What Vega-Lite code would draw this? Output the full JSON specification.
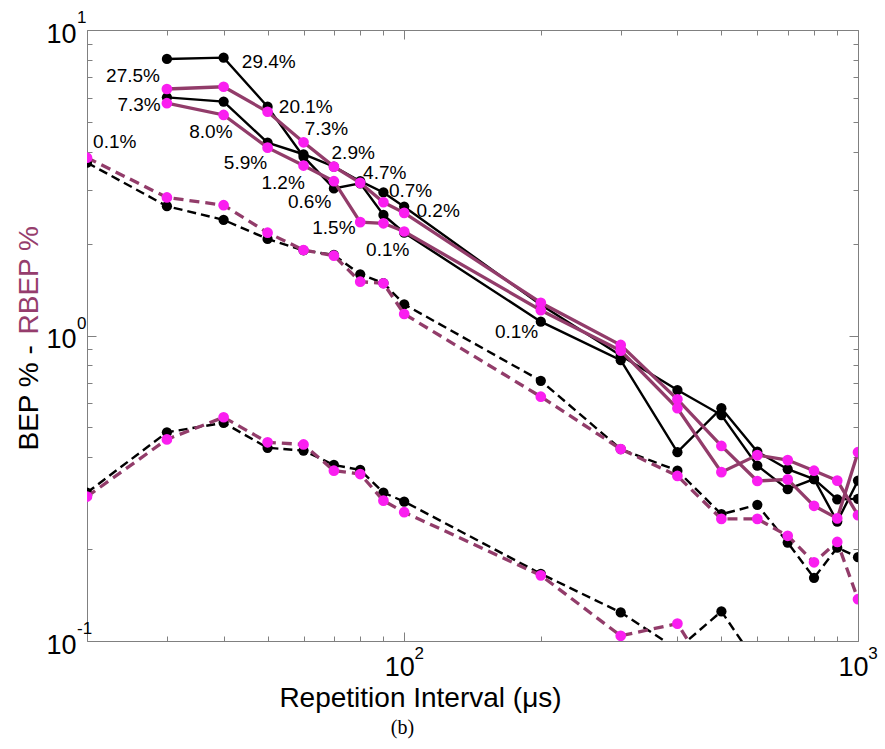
{
  "$schema": "https://vega.github.io/schema/vega-lite/v6.json",
  "width": 771,
  "height": 611,
  "autosize": {"type": "none"},
  "padding": {"left": 87, "top": 30, "right": 27, "bottom": 108},
  "background": "white",
  "config": {"view": {"stroke": null}, "font": "Liberation Sans"},
  "datasets": {
    "series": [
      {"t": 30, "v": 8.04, "m": "BEP", "s": "A"}, {"t": 40, "v": 8.12, "m": "BEP", "s": "A"}, {"t": 50, "v": 5.61, "m": "BEP", "s": "A"}, {"t": 60, "v": 3.85, "m": "BEP", "s": "A"}, {"t": 70, "v": 3.03, "m": "BEP", "s": "A"}, {"t": 80, "v": 3.15, "m": "BEP", "s": "A"}, {"t": 90, "v": 2.48, "m": "BEP", "s": "A"}, {"t": 100, "v": 2.17, "m": "BEP", "s": "A"}, {"t": 200, "v": 1.11, "m": "BEP", "s": "A"}, {"t": 300, "v": 0.83, "m": "BEP", "s": "A"}, {"t": 400, "v": 0.415, "m": "BEP", "s": "A"}, {"t": 500, "v": 0.578, "m": "BEP", "s": "A"}, {"t": 600, "v": 0.4165, "m": "BEP", "s": "A"}, {"t": 700, "v": 0.365, "m": "BEP", "s": "A"}, {"t": 800, "v": 0.339, "m": "BEP", "s": "A"}, {"t": 900, "v": 0.291, "m": "BEP", "s": "A"}, {"t": 1000, "v": 0.292, "m": "BEP", "s": "A"},
      {"t": 30, "v": 6.02, "m": "BEP", "s": "B"}, {"t": 40, "v": 5.83, "m": "BEP", "s": "B"}, {"t": 50, "v": 4.28, "m": "BEP", "s": "B"}, {"t": 60, "v": 3.92, "m": "BEP", "s": "B"}, {"t": 70, "v": 3.57, "m": "BEP", "s": "B"}, {"t": 80, "v": 3.2, "m": "BEP", "s": "B"}, {"t": 90, "v": 2.94, "m": "BEP", "s": "B"}, {"t": 100, "v": 2.64, "m": "BEP", "s": "B"}, {"t": 200, "v": 1.26, "m": "BEP", "s": "B"}, {"t": 300, "v": 0.86, "m": "BEP", "s": "B"}, {"t": 400, "v": 0.663, "m": "BEP", "s": "B"}, {"t": 500, "v": 0.549, "m": "BEP", "s": "B"}, {"t": 600, "v": 0.375, "m": "BEP", "s": "B"}, {"t": 700, "v": 0.314, "m": "BEP", "s": "B"}, {"t": 800, "v": 0.339, "m": "BEP", "s": "B"}, {"t": 900, "v": 0.246, "m": "BEP", "s": "B"}, {"t": 1000, "v": 0.335, "m": "BEP", "s": "B"},
      {"t": 20, "v": 3.68, "m": "BEP", "s": "M"}, {"t": 30, "v": 2.65, "m": "BEP", "s": "M"}, {"t": 40, "v": 2.39, "m": "BEP", "s": "M"}, {"t": 50, "v": 2.07, "m": "BEP", "s": "M"}, {"t": 60, "v": 1.9, "m": "BEP", "s": "M"}, {"t": 70, "v": 1.835, "m": "BEP", "s": "M"}, {"t": 80, "v": 1.586, "m": "BEP", "s": "M"}, {"t": 90, "v": 1.485, "m": "BEP", "s": "M"}, {"t": 100, "v": 1.265, "m": "BEP", "s": "M"}, {"t": 200, "v": 0.711, "m": "BEP", "s": "M"}, {"t": 300, "v": 0.425, "m": "BEP", "s": "M"}, {"t": 400, "v": 0.361, "m": "BEP", "s": "M"}, {"t": 500, "v": 0.26, "m": "BEP", "s": "M"}, {"t": 600, "v": 0.279, "m": "BEP", "s": "M"}, {"t": 700, "v": 0.21, "m": "BEP", "s": "M"}, {"t": 800, "v": 0.161, "m": "BEP", "s": "M"}, {"t": 900, "v": 0.202, "m": "BEP", "s": "M"}, {"t": 1000, "v": 0.188, "m": "BEP", "s": "M"},
      {"t": 20, "v": 0.306, "m": "BEP", "s": "L"}, {"t": 30, "v": 0.482, "m": "BEP", "s": "L"}, {"t": 40, "v": 0.518, "m": "BEP", "s": "L"}, {"t": 50, "v": 0.429, "m": "BEP", "s": "L"}, {"t": 60, "v": 0.42, "m": "BEP", "s": "L"}, {"t": 70, "v": 0.377, "m": "BEP", "s": "L"}, {"t": 80, "v": 0.363, "m": "BEP", "s": "L"}, {"t": 90, "v": 0.306, "m": "BEP", "s": "L"}, {"t": 100, "v": 0.286, "m": "BEP", "s": "L"}, {"t": 200, "v": 0.166, "m": "BEP", "s": "L"}, {"t": 300, "v": 0.124, "m": "BEP", "s": "L"}, {"t": 400, "v": 0.094, "m": "BEP", "s": "L"}, {"t": 500, "v": 0.125, "m": "BEP", "s": "L"}, {"t": 600, "v": 0.084, "m": "BEP", "s": "L"},
      {"t": 30, "v": 6.41, "m": "RBEP", "s": "A"}, {"t": 40, "v": 6.52, "m": "RBEP", "s": "A"}, {"t": 50, "v": 5.4, "m": "RBEP", "s": "A"}, {"t": 60, "v": 4.29, "m": "RBEP", "s": "A"}, {"t": 70, "v": 3.57, "m": "RBEP", "s": "A"}, {"t": 80, "v": 3.16, "m": "RBEP", "s": "A"}, {"t": 90, "v": 2.73, "m": "RBEP", "s": "A"}, {"t": 100, "v": 2.52, "m": "RBEP", "s": "A"}, {"t": 200, "v": 1.28, "m": "RBEP", "s": "A"}, {"t": 300, "v": 0.931, "m": "RBEP", "s": "A"}, {"t": 400, "v": 0.618, "m": "RBEP", "s": "A"}, {"t": 500, "v": 0.435, "m": "RBEP", "s": "A"}, {"t": 600, "v": 0.334, "m": "RBEP", "s": "A"}, {"t": 700, "v": 0.338, "m": "RBEP", "s": "A"}, {"t": 800, "v": 0.277, "m": "RBEP", "s": "A"}, {"t": 900, "v": 0.252, "m": "RBEP", "s": "A"}, {"t": 1000, "v": 0.415, "m": "RBEP", "s": "A"},
      {"t": 30, "v": 5.76, "m": "RBEP", "s": "B"}, {"t": 40, "v": 5.27, "m": "RBEP", "s": "B"}, {"t": 50, "v": 4.12, "m": "RBEP", "s": "B"}, {"t": 60, "v": 3.6, "m": "RBEP", "s": "B"}, {"t": 70, "v": 3.2, "m": "RBEP", "s": "B"}, {"t": 80, "v": 2.35, "m": "RBEP", "s": "B"}, {"t": 90, "v": 2.33, "m": "RBEP", "s": "B"}, {"t": 100, "v": 2.19, "m": "RBEP", "s": "B"}, {"t": 200, "v": 1.21, "m": "RBEP", "s": "B"}, {"t": 300, "v": 0.892, "m": "RBEP", "s": "B"}, {"t": 400, "v": 0.578, "m": "RBEP", "s": "B"}, {"t": 500, "v": 0.357, "m": "RBEP", "s": "B"}, {"t": 600, "v": 0.406, "m": "RBEP", "s": "B"}, {"t": 700, "v": 0.391, "m": "RBEP", "s": "B"}, {"t": 800, "v": 0.361, "m": "RBEP", "s": "B"}, {"t": 900, "v": 0.335, "m": "RBEP", "s": "B"}, {"t": 1000, "v": 0.258, "m": "RBEP", "s": "B"},
      {"t": 20, "v": 3.82, "m": "RBEP", "s": "M"}, {"t": 30, "v": 2.83, "m": "RBEP", "s": "M"}, {"t": 40, "v": 2.67, "m": "RBEP", "s": "M"}, {"t": 50, "v": 2.17, "m": "RBEP", "s": "M"}, {"t": 60, "v": 1.905, "m": "RBEP", "s": "M"}, {"t": 70, "v": 1.825, "m": "RBEP", "s": "M"}, {"t": 80, "v": 1.5, "m": "RBEP", "s": "M"}, {"t": 90, "v": 1.482, "m": "RBEP", "s": "M"}, {"t": 100, "v": 1.176, "m": "RBEP", "s": "M"}, {"t": 200, "v": 0.6305, "m": "RBEP", "s": "M"}, {"t": 300, "v": 0.425, "m": "RBEP", "s": "M"}, {"t": 400, "v": 0.347, "m": "RBEP", "s": "M"}, {"t": 500, "v": 0.251, "m": "RBEP", "s": "M"}, {"t": 600, "v": 0.251, "m": "RBEP", "s": "M"}, {"t": 700, "v": 0.221, "m": "RBEP", "s": "M"}, {"t": 800, "v": 0.181, "m": "RBEP", "s": "M"}, {"t": 900, "v": 0.211, "m": "RBEP", "s": "M"}, {"t": 1000, "v": 0.137, "m": "RBEP", "s": "M"},
      {"t": 20, "v": 0.297, "m": "RBEP", "s": "L"}, {"t": 30, "v": 0.457, "m": "RBEP", "s": "L"}, {"t": 40, "v": 0.54, "m": "RBEP", "s": "L"}, {"t": 50, "v": 0.447, "m": "RBEP", "s": "L"}, {"t": 60, "v": 0.44, "m": "RBEP", "s": "L"}, {"t": 70, "v": 0.361, "m": "RBEP", "s": "L"}, {"t": 80, "v": 0.352, "m": "RBEP", "s": "L"}, {"t": 90, "v": 0.288, "m": "RBEP", "s": "L"}, {"t": 100, "v": 0.264, "m": "RBEP", "s": "L"}, {"t": 200, "v": 0.164, "m": "RBEP", "s": "L"}, {"t": 300, "v": 0.104, "m": "RBEP", "s": "L"}, {"t": 400, "v": 0.114, "m": "RBEP", "s": "L"}, {"t": 500, "v": 0.067, "m": "RBEP", "s": "L"}
    ],
    "notes": [
      {"t": 50.3, "v": 7.87, "label": "29.4%"},
      {"t": 25.26, "v": 7.07, "label": "27.5%"},
      {"t": 26.05, "v": 5.68, "label": "7.3%"},
      {"t": 23.02, "v": 4.31, "label": "0.1%"},
      {"t": 60.7, "v": 5.58, "label": "20.1%"},
      {"t": 37.5, "v": 4.65, "label": "8.0%"},
      {"t": 67.4, "v": 4.73, "label": "7.3%"},
      {"t": 44.7, "v": 3.68, "label": "5.9%"},
      {"t": 77.2, "v": 3.95, "label": "2.9%"},
      {"t": 54.1, "v": 3.15, "label": "1.2%"},
      {"t": 90.6, "v": 3.41, "label": "4.7%"},
      {"t": 61.9, "v": 2.74, "label": "0.6%"},
      {"t": 103.3, "v": 2.98, "label": "0.7%"},
      {"t": 70.0, "v": 2.25, "label": "1.5%"},
      {"t": 118.8, "v": 2.56, "label": "0.2%"},
      {"t": 92.0, "v": 1.905, "label": "0.1%"},
      {"t": 176.9, "v": 1.029, "label": "0.1%"}
    ],
    "xexp": [{"t": 100, "e": "2"}, {"t": 1000, "e": "3"}],
    "yexp": [{"v": 0.1, "e": "-1"}, {"v": 1, "e": "0"}, {"v": 10, "e": "1"}]
  },
  "resolve": {"axis": {"x": "independent", "y": "independent"}},
  "layer": [
    {
      "data": {"name": "series"},
      "transform": [{"filter": "datum.m == 'BEP' && (datum.s == 'A' || datum.s == 'B')"}],
      "mark": {"type": "line", "color": "black", "strokeWidth": 2.4, "clip": true},
      "encoding": {
        "x": {"field": "t", "type": "quantitative", "scale": {"type": "log", "domain": [20, 1000], "nice": false},
          "axis": {"orient": "bottom", "values": [20, 30, 40, 50, 60, 70, 80, 90, 100, 200, 300, 400, 500, 600, 700, 800, 900, 1000],
            "labelExpr": "datum.value == 100 || datum.value == 1000 ? '10' : ''",
            "tickSize": {"condition": {"test": "datum.value == 100 || datum.value == 1000", "value": -9}, "value": -5},
            "labelPadding": 22, "labelFontSize": 27, "labelOffset": -5, "labelFont": "Liberation Sans", "labelColor": "black",
            "labelOverlap": false, "labelFlush": false, "labelBaseline": "top",
            "domainColor": "#808080", "tickColor": "#808080", "grid": false,
            "title": "Repetition Interval (μs)", "titleFont": "Liberation Sans", "titleFontSize": 28, "titleFontWeight": "normal", "titleColor": "black",
            "titleX": 333, "titleY": 57, "titleAlign": "center", "titleBaseline": "middle", "titleAngle": 0}},
        "y": {"field": "v", "type": "quantitative", "scale": {"type": "log", "domain": [0.1, 10], "nice": false},
          "axis": {"orient": "left", "values": [0.1, 0.2, 0.3, 0.4, 0.5, 0.6, 0.7, 0.8, 0.9, 1, 2, 3, 4, 5, 6, 7, 8, 9, 10],
            "labelExpr": "datum.value == 0.1 || datum.value == 1 || datum.value == 10 ? '10' : ''",
            "tickSize": {"condition": {"test": "datum.value == 0.1 || datum.value == 1 || datum.value == 10", "value": -9}, "value": -5},
            "labelPadding": 20, "labelFontSize": 27, "labelOffset": 4, "labelFont": "Liberation Sans", "labelColor": "black",
            "labelOverlap": false, "labelFlush": false,
            "domainColor": "#808080", "tickColor": "#808080", "grid": false,
            "title": "BEP % -", "titleFont": "Liberation Sans", "titleFontSize": 28, "titleFontWeight": "normal", "titleColor": "black",
            "titleX": -58, "titleY": 420, "titleAlign": "left", "titleBaseline": "middle", "titleAngle": 270}},
        "detail": {"field": "s"}
      }
    },
    {
      "data": {"name": "series"},
      "transform": [{"filter": "datum.m == 'BEP' && (datum.s == 'M' || datum.s == 'L')"}],
      "mark": {"type": "line", "color": "black", "strokeWidth": 2.4, "strokeDash": [9, 5], "clip": true},
      "encoding": {
        "x": {"field": "t", "type": "quantitative", "scale": {"type": "log", "domain": [20, 1000], "nice": false}, "axis": null},
        "y": {"field": "v", "type": "quantitative", "scale": {"type": "log", "domain": [0.1, 10], "nice": false}, "axis": null},
        "detail": {"field": "s"}
      }
    },
    {
      "data": {"name": "series"},
      "transform": [{"filter": "datum.m == 'BEP'"}],
      "mark": {"type": "point", "filled": true, "color": "black", "opacity": 1, "size": 105, "clip": true},
      "encoding": {
        "x": {"field": "t", "type": "quantitative", "scale": {"type": "log", "domain": [20, 1000], "nice": false}, "axis": null},
        "y": {"field": "v", "type": "quantitative", "scale": {"type": "log", "domain": [0.1, 10], "nice": false}, "axis": null}
      }
    },
    {
      "data": {"name": "series"},
      "transform": [{"filter": "datum.m == 'RBEP' && (datum.s == 'A' || datum.s == 'B')"}],
      "mark": {"type": "line", "color": "#923c6a", "strokeWidth": 3.3, "clip": true},
      "encoding": {
        "x": {"field": "t", "type": "quantitative", "scale": {"type": "log", "domain": [20, 1000], "nice": false},
          "axis": {"orient": "top", "values": [20, 30, 40, 50, 60, 70, 80, 90, 100, 200, 300, 400, 500, 600, 700, 800, 900, 1000],
            "labels": false,
            "tickSize": {"condition": {"test": "datum.value == 100 || datum.value == 1000", "value": -9}, "value": -5},
            "domainColor": "#808080", "tickColor": "#808080", "grid": false,
            "title": "(b)", "titleFont": "Liberation Serif", "titleFontSize": 20, "titleFontWeight": "normal", "titleColor": "black",
            "titleX": 315, "titleY": 697, "titleAlign": "center", "titleBaseline": "middle", "titleAngle": 0}},
        "y": {"field": "v", "type": "quantitative", "scale": {"type": "log", "domain": [0.1, 10], "nice": false},
          "axis": {"orient": "right", "values": [0.1, 0.2, 0.3, 0.4, 0.5, 0.6, 0.7, 0.8, 0.9, 1, 2, 3, 4, 5, 6, 7, 8, 9, 10],
            "labels": false,
            "tickSize": {"condition": {"test": "datum.value == 0.1 || datum.value == 1 || datum.value == 10", "value": -9}, "value": -5},
            "domainColor": "#808080", "tickColor": "#808080", "grid": false,
            "title": "RBEP %", "titleFont": "Liberation Sans", "titleFontSize": 28, "titleFontWeight": "normal", "titleColor": "#953d6d",
            "titleX": -829, "titleY": 304, "titleAlign": "left", "titleBaseline": "middle", "titleAngle": 270}},
        "detail": {"field": "s"}
      }
    },
    {
      "data": {"name": "series"},
      "transform": [{"filter": "datum.m == 'RBEP' && (datum.s == 'M' || datum.s == 'L')"}],
      "mark": {"type": "line", "color": "#923c6a", "strokeWidth": 3.3, "strokeDash": [10, 6], "clip": true},
      "encoding": {
        "x": {"field": "t", "type": "quantitative", "scale": {"type": "log", "domain": [20, 1000], "nice": false}, "axis": null},
        "y": {"field": "v", "type": "quantitative", "scale": {"type": "log", "domain": [0.1, 10], "nice": false}, "axis": null},
        "detail": {"field": "s"}
      }
    },
    {
      "data": {"name": "series"},
      "transform": [{"filter": "datum.m == 'RBEP'"}],
      "mark": {"type": "point", "filled": true, "color": "#fa1ef0", "opacity": 1, "size": 115, "clip": true},
      "encoding": {
        "x": {"field": "t", "type": "quantitative", "scale": {"type": "log", "domain": [20, 1000], "nice": false}, "axis": null},
        "y": {"field": "v", "type": "quantitative", "scale": {"type": "log", "domain": [0.1, 10], "nice": false}, "axis": null}
      }
    },
    {
      "data": {"name": "notes"},
      "mark": {"type": "text", "font": "Liberation Sans", "fontSize": 19, "color": "black", "align": "center", "baseline": "middle"},
      "encoding": {
        "x": {"field": "t", "type": "quantitative", "scale": {"type": "log", "domain": [20, 1000], "nice": false}, "axis": null},
        "y": {"field": "v", "type": "quantitative", "scale": {"type": "log", "domain": [0.1, 10], "nice": false}, "axis": null},
        "text": {"field": "label"}
      }
    },
    {
      "data": {"name": "xexp"},
      "mark": {"type": "text", "font": "Liberation Sans", "fontSize": 17, "color": "black", "align": "center", "baseline": "middle", "dx": 15, "dy": 13, "clip": false},
      "encoding": {
        "x": {"field": "t", "type": "quantitative", "scale": {"type": "log", "domain": [20, 1000], "nice": false}, "axis": null},
        "y": {"datum": 0.1, "type": "quantitative", "scale": {"type": "log", "domain": [0.1, 10], "nice": false}, "axis": null},
        "text": {"field": "e"}
      }
    },
    {
      "data": {"name": "yexp"},
      "mark": {"type": "text", "font": "Liberation Sans", "fontSize": 17, "color": "black", "align": "left", "baseline": "middle", "dx": -10, "dy": -12, "clip": false},
      "encoding": {
        "x": {"datum": 20, "type": "quantitative", "scale": {"type": "log", "domain": [20, 1000], "nice": false}, "axis": null},
        "y": {"field": "v", "type": "quantitative", "scale": {"type": "log", "domain": [0.1, 10], "nice": false}, "axis": null},
        "text": {"field": "e"}
      }
    }
  ]
}
